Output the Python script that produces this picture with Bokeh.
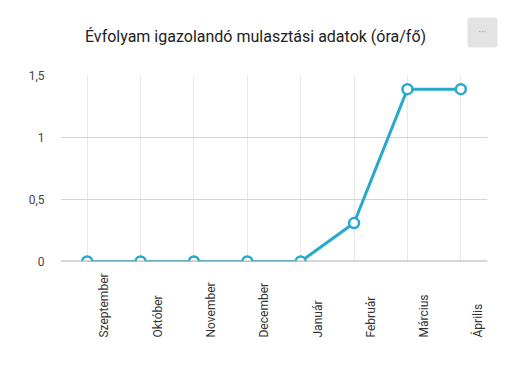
import math
from bokeh.plotting import figure
from bokeh.layouts import column
from bokeh.models import FactorRange, Range1d, FixedTicker, ColumnDataSource
from bokeh.core.properties import value
from bokeh.embed import file_html
from bokeh.resources import INLINE

months = ["Szeptember", "Október", "November", "December",
          "Január", "Február", "Március", "Április"]
values = [0, 0, 0, 0, 0, 0.31, 1.39, 1.39]
y_ticks = [0, 0.5, 1, 1.5]
y_tick_labels = ["0", "0,5", "1", "1,5"]
title_text = "Évfolyam igazolandó mulasztási adatok (óra/fő)"

LINE = "#27a8cd"
FONT = "Roboto"
W = 510
LEFT, RIGHT = 60, 23


def bare(fig):
    fig.outline_line_color = None
    fig.xaxis.visible = False
    fig.yaxis.visible = False
    fig.xgrid.visible = False
    fig.ygrid.visible = False
    fig.background_fill_color = "white"
    fig.border_fill_color = "white"


# ---- header: title + menu button ----
hdr = figure(width=W, height=60, x_range=Range1d(0, W), y_range=Range1d(60, 0),
             output_backend="svg", toolbar_location=None,
             min_border_left=0, min_border_right=0, min_border_top=0,
             min_border_bottom=0, frame_align=False)
bare(hdr)
hdr.text(x=[255], y=[36], text=[title_text], text_align="center",
         text_baseline="middle", text_font=value(FONT),
         text_font_size="16px", text_color="#222222")
hdr.quad(left=[467], right=[497], top=[17], bottom=[47],
         fill_color="#e3e3e3", line_color=None, border_radius=3)
hdr.text(x=[482], y=[32], text=["···"], text_align="center",
         text_baseline="middle", text_font=value(FONT),
         text_font_size="10px", text_color="#9a9a9a")

# ---- main chart ----
xr = FactorRange(*months, range_padding=0)
p = figure(width=W, height=15 + 186 + 11, x_range=xr,
           y_range=Range1d(0, 1.5), output_backend="svg",
           toolbar_location=None, min_border_left=LEFT,
           min_border_right=RIGHT, min_border_top=15, min_border_bottom=11)
p.outline_line_color = None
p.background_fill_color = "white"
p.border_fill_color = "white"
p.xaxis.visible = False

p.yaxis.ticker = FixedTicker(ticks=y_ticks)
p.yaxis.major_label_overrides = {t: l for t, l in zip(y_ticks, y_tick_labels)}
p.yaxis.axis_line_color = None
p.yaxis.major_tick_line_color = None
p.yaxis.minor_tick_line_color = None
p.yaxis.major_label_text_font = FONT
p.yaxis.major_label_text_font_size = "12px"
p.yaxis.major_label_text_color = "#444444"
p.yaxis.major_label_standoff = 10

p.ygrid.ticker = FixedTicker(ticks=y_ticks[1:])
p.ygrid.grid_line_color = "#d4d4d4"
p.xgrid.grid_line_color = "#e8e8e8"

src = ColumnDataSource(dict(x=months, y=values))
p.line("x", "y", source=src, line_width=3, line_color=LINE)
p.scatter("x", "y", source=src, size=10, fill_color="white",
          line_color=LINE, line_width=2.5)
p.hspan(y=[0], line_color="#b0b0b0", line_width=2)

# ---- category labels below ----
lab = figure(width=W, height=75, x_range=xr, y_range=Range1d(0, 75),
             output_backend="svg", toolbar_location=None,
             min_border_left=LEFT, min_border_right=RIGHT, min_border_top=0,
             min_border_bottom=0)
bare(lab)
lab.text(x=months, y=[10] * len(months), text=months, angle=math.pi / 2,
         x_offset=17, text_align="left", text_baseline="middle",
         text_font=value(FONT), text_font_size="12px", text_color="#333333")

layout = column(hdr, p, lab, spacing=0)
open("out.html", "w").write(file_html(layout, INLINE))
